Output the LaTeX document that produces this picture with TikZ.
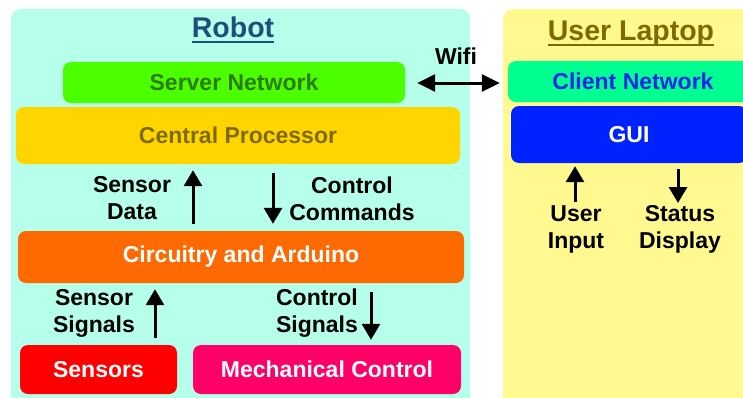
\documentclass[tikz,border=0pt]{standalone}
\usepackage{fontspec}
\setmainfont{Liberation Sans}
\usetikzlibrary{arrows.meta}

\definecolor{robotbg}{HTML}{B6FFEA}
\definecolor{laptopbg}{HTML}{FFF98F}
\definecolor{robottitle}{HTML}{1F4E79}
\definecolor{olivetext}{HTML}{7F6A00}
\definecolor{servfill}{HTML}{4CFF00}
\definecolor{servtext}{HTML}{2A7D0A}
\definecolor{cpufill}{HTML}{FFD500}
\definecolor{circfill}{HTML}{FF6A00}
\definecolor{sensfill}{HTML}{FF0000}
\definecolor{mechfill}{HTML}{FF0066}
\definecolor{clientfill}{HTML}{00FF91}
\definecolor{clienttext}{HTML}{1426E8}
\definecolor{guifill}{HTML}{0022FF}

\tikzset{
  box/.style={rectangle, rounded corners=8pt, inner sep=0pt,
    font=\fontsize{23}{27}\selectfont\bfseries},
  lbl/.style={align=center, inner sep=0pt,
    font=\fontsize{23}{27}\selectfont\bfseries},
  ttl/.style={inner sep=0pt, font=\fontsize{28.5}{32}\selectfont\bfseries},
  uline/.style={line width=2.5pt},
  arr/.style={line width=3pt, -{Triangle[width=18pt,length=16pt]}},
  darr/.style={line width=3pt, {Triangle[width=17pt,length=18pt]}-{Triangle[width=17pt,length=18pt]}},
}

\begin{document}
\begin{tikzpicture}[x=1pt,y=-1pt]
\useasboundingbox (0,0) rectangle (743,397);
\clip (0,0) rectangle (743,397);

% panels
\fill[robotbg, rounded corners=10pt] (11,9) rectangle (470,420);
\fill[laptopbg, rounded corners=10pt] (503,9) rectangle (770,420);

% titles with their underlines
\node[ttl, text=robottitle, anchor=base] (robot) at (233,37) {Robot};
\draw[uline, robottitle] ([yshift=-5pt]robot.base west) -- ([yshift=-5pt]robot.base east);
\node[ttl, text=olivetext, anchor=base] (laptop) at (631,40) {User Laptop};
\draw[uline, olivetext] ([yshift=-5pt]laptop.base west) -- ([yshift=-5pt]laptop.base east);

% robot blocks
\node[box, fill=servfill, text=servtext, minimum width=342pt, minimum height=41pt]
  (server) at (234,82.5) {Server Network};
\node[box, fill=cpufill, text=olivetext, minimum width=444pt, minimum height=57pt]
  (cpu) at (238,135.5) {Central Processor};
\node[box, fill=circfill, text=white, minimum width=446pt, minimum height=52pt]
  (circ) at (241,257) {Circuitry and Arduino};
\node[box, fill=sensfill, text=white, minimum width=157pt, minimum height=49pt]
  (sensors) at (98.5,369.5) {Sensors};
\node[box, fill=mechfill, text=white, minimum width=268pt, minimum height=49pt]
  (mech) at (327,369.5) {Mechanical Control};

% laptop blocks
\node[box, fill=clientfill, text=clienttext, minimum width=250pt, minimum height=41pt]
  (client) at (633,81.5) {Client Network};
\node[box, fill=guifill, text=white, minimum width=236pt, minimum height=57pt]
  (gui) at (629,134.5) {GUI};

% arrow columns
\coordinate (sdx) at (193,0);
\coordinate (ccx) at (273,0);
\coordinate (ssx) at (155,0);
\coordinate (csx) at (371,0);
\coordinate (uin) at (575,202);
\coordinate (sdp) at (678,203);

% connectors
\draw[darr, shorten <=12pt, shorten >=8pt] (server.east |- 0,83) -- (client.west |- 0,83);
\draw[arr, shorten <=7pt, shorten >=6pt] (circ.north -| sdx) -- (cpu.south -| sdx);
\draw[arr, shorten <=9pt, shorten >=7pt] (cpu.south -| ccx) -- (circ.north -| ccx);
\draw[arr, shorten <=7pt, shorten >=6pt] (sensors.north -| ssx) -- (circ.south -| ssx);
\draw[arr, shorten <=9pt, shorten >=5pt] (circ.south -| csx) -- (mech.north -| csx);
\draw[arr, shorten >=3pt] (uin) -- (gui.south -| uin);
\draw[arr, shorten <=6pt] (gui.south -| sdp) -- (sdp);

% labels
\node[lbl] (wifi) at (456,56) {Wifi};
\node[lbl] (sdata) at (132,198.5) {Sensor\\Data};
\node[lbl] (ccmd) at (352,198.5) {Control\\Commands};
\node[lbl] (ssig) at (94,313.5) {Sensor\\Signals};
\node[lbl] (csig) at (317,313.5) {Control\\Signals};
\node[lbl] (uinl) at (576,229.5) {User\\Input};
\node[lbl] (sdisp) at (680,229.5) {Status\\Display};
\end{tikzpicture}
\end{document}
